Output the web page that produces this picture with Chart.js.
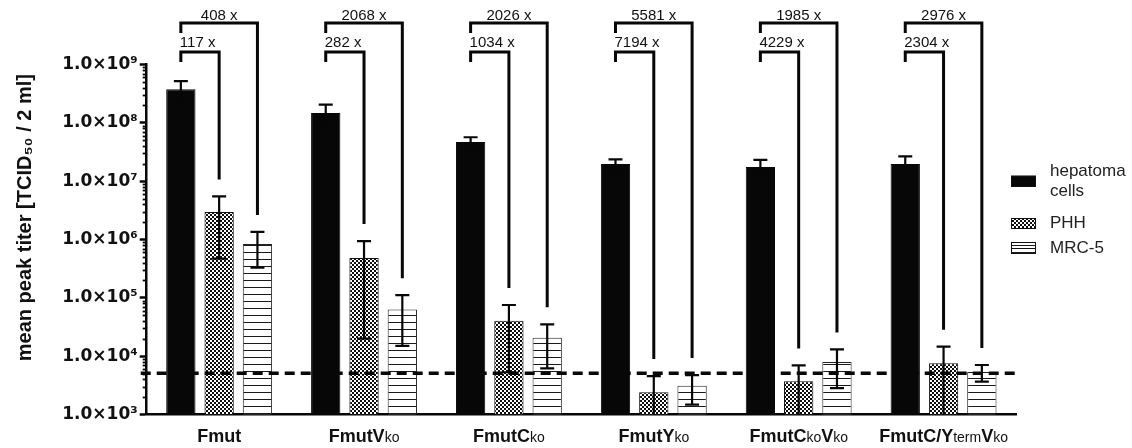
<!DOCTYPE html>
<html>
<head>
<meta charset="utf-8">
<script src="https://cdn.jsdelivr.net/npm/chart.js@4.4.1/dist/chart.umd.min.js"></script>
<style>
html,body{margin:0;padding:0;background:#fff;}
#wrap{width:1132px;height:448px;position:relative;}
</style>
</head>
<body>
<div id="wrap"><canvas id="c" width="1132" height="448"></canvas></div>
<script>
// ---- data ----
const categories = ['Fmut', 'FmutV_{ko}', 'FmutC_{ko}', 'FmutY_{ko}', 'FmutC_{ko}V_{ko}', 'FmutC/Y_{term}V_{ko}'];
const seriesNames = ['hepatoma cells', 'PHH', 'MRC-5'];
const hepatoma   = [3.75e8, 1.47e8, 4.7e7, 1.97e7, 1.75e7, 1.97e7];
const hepatomaSD = [1.45e8, 5.8e7, 9.6e6, 4.0e6, 5.6e6, 7.0e6];
const phh        = [2.97e6, 4.8e5, 4.03e4, 2.4e3, 3.7e3, 7.53e3];
const phhSD      = [2.5e6, 4.6e5, 3.5e4, 2.16e3, 3.25e3, 7.0e3];
const mrc5       = [8.4e5, 6.3e4, 2.07e4, 3.11e3, 7.93e3, 5.35e3];
const mrc5SD     = [5.1e5, 4.8e4, 1.45e4, 1.63e3, 5.1e3, 1.7e3];
const foldPHH    = [117, 282, 1034, 7194, 4229, 2304];
const foldMRC5   = [408, 2068, 2026, 5581, 1985, 2976];
const detectionLimit = 5.1e3;
const yTickValues = [1e3, 1e4, 1e5, 1e6, 1e7, 1e8, 1e9];
const yMin = 1e3, yMax = 1e9;

// ---- helpers ----
const SUP = {'0':'⁰','1':'¹','2':'²','3':'³','4':'⁴','5':'⁵','6':'⁶','7':'⁷','8':'⁸','9':'⁹','-':'⁻'};
function fmtTick(v){
  const e = Math.round(Math.log10(v));
  return '1.0×10' + String(e).split('').map(c => SUP[c]).join('');
}
function parseLabel(s){
  const parts = []; const re = /_\{([^}]*)\}/g; let last = 0, m;
  while ((m = re.exec(s))){ if (m.index > last) parts.push({t: s.slice(last, m.index), sub:false}); parts.push({t:m[1], sub:true}); last = re.lastIndex; }
  if (last < s.length) parts.push({t:s.slice(last), sub:false});
  return parts;
}
const plainLabels = categories.map(s => parseLabel(s).map(p => p.t).join(''));

const INK = '#070708';
function makePHHPattern(){
  const c = document.createElement('canvas'); c.width = 4; c.height = 4;
  const g = c.getContext('2d');
  g.fillStyle = '#fff'; g.fillRect(0,0,4,4);
  g.fillStyle = '#0d0d0d'; g.fillRect(0,0,2,2); g.fillRect(2,2,2,2);
  return g.createPattern(c, 'repeat');
}
function makeMRCPattern(){
  const c = document.createElement('canvas'); c.width = 8; c.height = 7;
  const g = c.getContext('2d');
  g.fillStyle = '#fff'; g.fillRect(0,0,8,7);
  g.fillStyle = '#1a1a1a'; g.fillRect(0,0,8,1);
  return g.createPattern(c, 'repeat');
}
const phhPattern = makePHHPattern();
const mrcPattern = makeMRCPattern();

const MAIN_FONT = '"Liberation Sans", Arial, sans-serif';

// ---- plugins ----
const detectionPlugin = {
  id: 'detectionLimit',
  afterDatasetsDraw(chart){
    const {ctx, chartArea:a, scales:{y}} = chart;
    const py = y.getPixelForValue(detectionLimit);
    ctx.save();
    ctx.strokeStyle = INK; ctx.lineWidth = 3.5; ctx.setLineDash([10, 6]);
    ctx.beginPath(); ctx.moveTo(a.left - 6, py); ctx.lineTo(a.right, py); ctx.stroke();
    ctx.restore();
  }
};

const errorBarPlugin = {
  id: 'errorBars',
  afterDatasetsDraw(chart){
    const {ctx, chartArea:a, scales:{y}} = chart;
    ctx.save();
    ctx.strokeStyle = INK; ctx.lineWidth = 2.2; ctx.lineCap = 'butt';
    chart.data.datasets.forEach((ds, di) => {
      const meta = chart.getDatasetMeta(di);
      meta.data.forEach((bar, i) => {
        const m = ds.data[i], sd = ds.errorBars[i];
        const top = y.getPixelForValue(m + sd);
        const lowV = m - sd;
        const clipped = !(lowV > yMin);
        const bot = clipped ? a.bottom : y.getPixelForValue(lowV);
        const x = bar.x, half = 7;
        ctx.beginPath();
        ctx.moveTo(x, top); ctx.lineTo(x, bot);
        ctx.moveTo(x - half, top); ctx.lineTo(x + half, top);
        if (!clipped){ ctx.moveTo(x - half, bot); ctx.lineTo(x + half, bot); }
        ctx.stroke();
      });
    });
    ctx.restore();
  }
};

const bracketPlugin = {
  id: 'foldBrackets',
  afterDatasetsDraw(chart){
    const {ctx, chartArea:a, scales:{y}} = chart;
    const m0 = chart.getDatasetMeta(0), m1 = chart.getDatasetMeta(1), m2 = chart.getDatasetMeta(2);
    const outerY = a.top - 41.5, innerY = a.top - 12.5, tick = 10, gap = 17;
    ctx.save();
    ctx.strokeStyle = INK; ctx.lineWidth = 3; ctx.lineJoin = 'miter';
    ctx.fillStyle = '#111'; ctx.font = '15px ' + MAIN_FONT; ctx.textBaseline = 'alphabetic';
    categories.forEach((c, i) => {
      const hx = m0.data[i].x, px = m1.data[i].x, mx = m2.data[i].x;
      const pEnd = y.getPixelForValue(phh[i] + phhSD[i]) - gap;
      const mEnd = y.getPixelForValue(mrc5[i] + mrc5SD[i]) - gap;
      ctx.beginPath();
      ctx.moveTo(hx, outerY + tick); ctx.lineTo(hx, outerY); ctx.lineTo(mx, outerY); ctx.lineTo(mx, mEnd);
      ctx.stroke();
      ctx.beginPath();
      ctx.moveTo(hx, innerY + tick); ctx.lineTo(hx, innerY); ctx.lineTo(px, innerY); ctx.lineTo(px, pEnd);
      ctx.stroke();
      ctx.textAlign = 'center';
      ctx.fillText(foldMRC5[i] + ' x', (hx + mx) / 2, outerY - 3.5);
      ctx.textAlign = 'left';
      ctx.fillText(foldPHH[i] + ' x', hx - 1, innerY - 5);
    });
    ctx.restore();
  }
};

const minorTickPlugin = {
  id: 'minorTicks',
  afterDraw(chart){
    const {ctx, chartArea:a, scales:{y}} = chart;
    ctx.save(); ctx.strokeStyle = INK; ctx.lineWidth = 1.8;
    for (let e = 3; e < 9; e++){
      for (let k = 2; k <= 9; k++){
        const py = Math.round(y.getPixelForValue(k * Math.pow(10, e))) + 0.5;
        ctx.beginPath(); ctx.moveTo(a.left - 4, py); ctx.lineTo(a.left, py); ctx.stroke();
      }
    }
    ctx.restore();
  }
};

const xLabelPlugin = {
  id: 'xLabels',
  afterDraw(chart){
    const {ctx, chartArea:a, scales:{x}} = chart;
    ctx.save(); ctx.fillStyle = '#111'; ctx.textBaseline = 'alphabetic'; ctx.textAlign = 'left';
    const mainFont = 'bold 18px ' + MAIN_FONT, subFont = '14px ' + MAIN_FONT;
    categories.forEach((c, i) => {
      const parts = parseLabel(c);
      let total = 0;
      parts.forEach(p => { ctx.font = p.sub ? subFont : mainFont; p.w = ctx.measureText(p.t).width; total += p.w; });
      let cx = x.getPixelForValue(i) - total / 2;
      const by = a.bottom + 27.5;
      parts.forEach(p => { ctx.font = p.sub ? subFont : mainFont; ctx.fillText(p.t, cx, by); cx += p.w; });
    });
    ctx.restore();
  }
};

const legendPlugin = {
  id: 'customLegend',
  afterDraw(chart){
    const {ctx, chartArea:a} = chart;
    const bx = a.right - 5, bw = 25, tx = bx + 39;
    const rows = [
      {lines: ['hepatoma', 'cells'], cy: 181, bh: 11},
      {lines: ['PHH'], cy: 223.5, bh: 11},
      {lines: ['MRC-5'], cy: 248, bh: 12}
    ];
    ctx.save();
    ctx.font = '17px ' + MAIN_FONT; ctx.textBaseline = 'middle'; ctx.textAlign = 'left';
    chart.data.datasets.forEach((ds, i) => {
      const r = rows[i];
      const by = r.cy - r.bh / 2;
      ctx.fillStyle = ds.backgroundColor;
      ctx.fillRect(bx, by, bw, r.bh);
      ctx.strokeStyle = '#111'; ctx.lineWidth = 1;
      ctx.strokeRect(bx + 0.5, Math.round(by) + 0.5, bw - 1, r.bh - 1);
      if (i === 2){ ctx.beginPath(); ctx.moveTo(bx, Math.round(r.cy) + 0.5); ctx.lineTo(bx + bw, Math.round(r.cy) + 0.5); ctx.stroke(); }
      ctx.fillStyle = '#222';
      const n = r.lines.length, lh = 20;
      r.lines.forEach((t, j) => ctx.fillText(t, tx, r.cy + (j - (n - 1) / 2) * lh));
    });
    ctx.restore();
  }
};

// ---- chart ----
new Chart(document.getElementById('c'), {
  type: 'bar',
  data: {
    labels: plainLabels,
    datasets: [
      {label: seriesNames[0], data: hepatoma, errorBars: hepatomaSD, backgroundColor: INK, borderColor: INK, borderWidth: 1},
      {label: seriesNames[1], data: phh, errorBars: phhSD, backgroundColor: phhPattern, borderColor: '#111', borderWidth: 1},
      {label: seriesNames[2], data: mrc5, errorBars: mrc5SD, backgroundColor: mrcPattern, borderColor: '#222', borderWidth: 1}
    ]
  },
  options: {
    responsive: false,
    animation: false,
    devicePixelRatio: 1,
    categoryPercentage: 0.793,
    barPercentage: 0.765,
    layout: {padding: {left: 9, top: 64.5, right: 116, bottom: 33.5}},
    plugins: {legend: {display: false}, tooltip: {enabled: false}, title: {display: false}},
    scales: {
      x: {
        type: 'category',
        grid: {display: false, drawTicks: false},
        border: {display: true, color: INK, width: 2.5},
        ticks: {display: false},
        afterFit(scale){ scale.height = 0; }
      },
      y: {
        type: 'logarithmic',
        min: yMin, max: yMax,
        afterBuildTicks(scale){ scale.ticks = yTickValues.map(v => ({value: v, major: true})); },
        afterFit(scale){ scale.width = 137.7; },
        grid: {display: true, drawOnChartArea: false, drawTicks: true, tickLength: 7, tickWidth: 2.5, tickColor: INK, color: INK},
        border: {display: true, color: INK, width: 2.5},
        ticks: {
          callback: (v) => fmtTick(v),
          font: {family: '"DejaVu Sans", sans-serif', weight: 'bold', size: 17},
          color: '#111', padding: 2, autoSkip: false
        },
        title: {
          display: true, text: 'mean peak titer [TCID₅₀ / 2 ml] \u2009', align: 'end',
          font: {family: MAIN_FONT, weight: 'bold', size: 20}, color: '#111',
          padding: {top: 4, bottom: 4}
        }
      }
    }
  },
  plugins: [detectionPlugin, errorBarPlugin, bracketPlugin, minorTickPlugin, xLabelPlugin, legendPlugin]
});
</script>
</body>
</html>
